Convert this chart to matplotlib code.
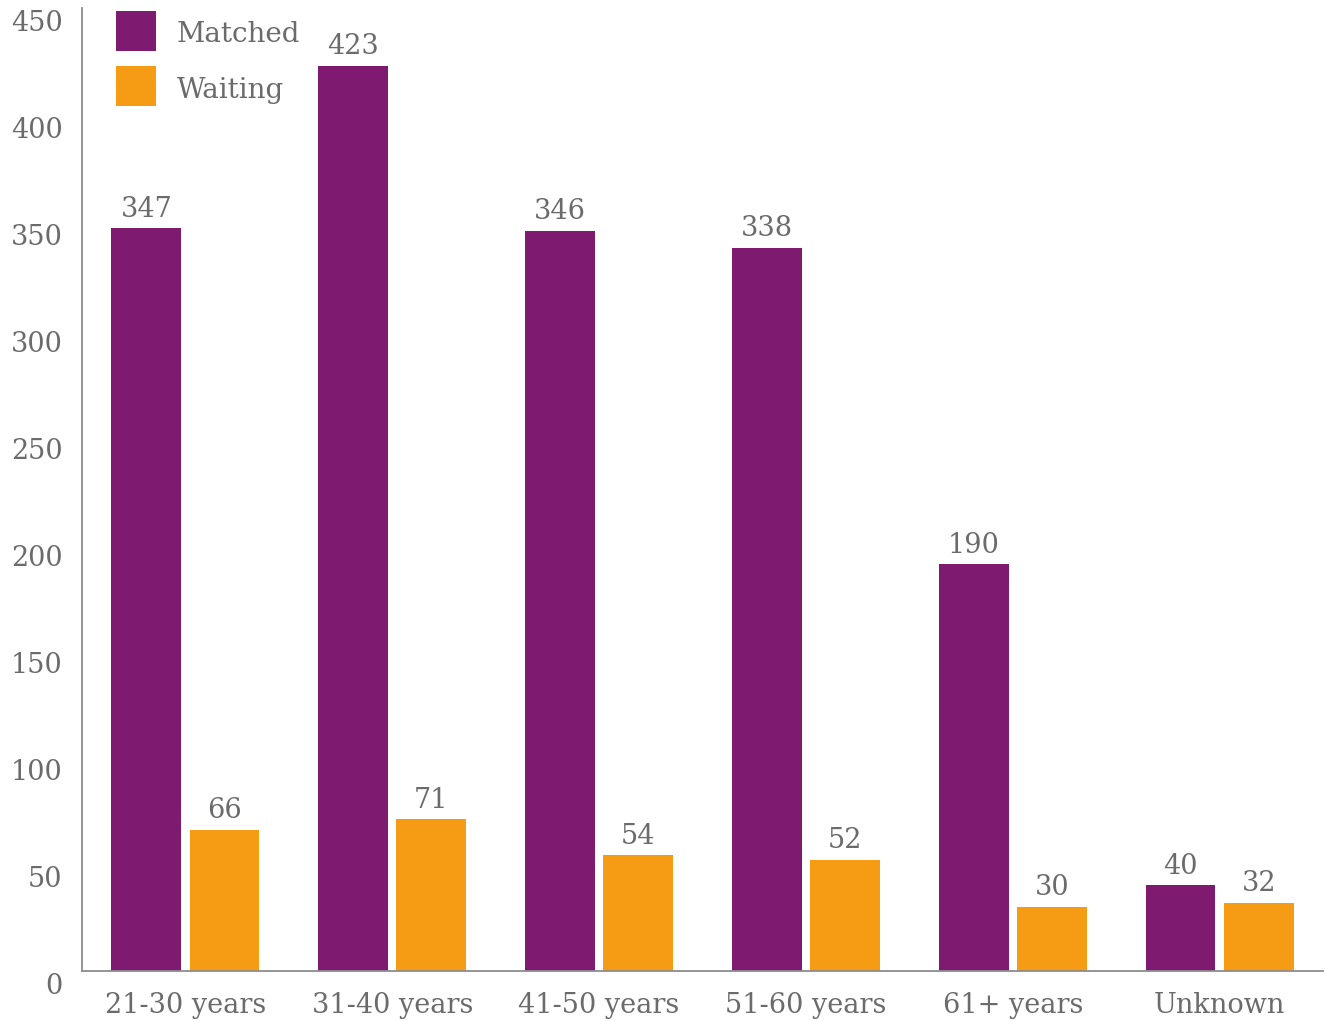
import matplotlib
matplotlib.use("Agg")
import matplotlib.pyplot as plt
from matplotlib.patches import Rectangle
from matplotlib.transforms import ScaledTranslation
import numpy as np

# age bands and counts
groups = ["21-30 years", "31-40 years", "41-50 years", "51-60 years", "61+ years", "Unknown"]
matched = [347, 423, 346, 338, 190, 40]
waiting = [66, 71, 54, 52, 30, 32]
series = ["Matched", "Waiting"]

purple = "#7e1a70"
orange = "#f59c14"
grey = "#6b6b6b"

plt.rcParams["font.family"] = ["DejaVu Serif"]

W, H = 1325, 1021
fig = plt.figure(figsize=(W / 100, H / 100), dpi=100)
ax = fig.add_axes([82 / W, 50 / H, 1241 / W, 963 / H])

x = np.arange(len(groups))
w = 0.338
off = 0.189
b1 = ax.bar(x - off, matched, w, color=purple)
b2 = ax.bar(x + off, waiting, w, color=orange)

for bars in (b1, b2):
    ax.bar_label(bars, padding=4, fontsize=19.5, color=grey)

ax.set_xlim(-0.5, 5.5)
ax.set_ylim(0, 450)
ax.set_yticks(range(0, 451, 50))
ax.set_xticks(x)
ax.set_xticklabels(groups)
ax.tick_params(axis="both", length=0, labelsize=19.5, labelcolor=grey)
ax.tick_params(axis="x", pad=15)
ax.tick_params(axis="y", pad=14)
# y labels sit a little under their gridline position
shift = ScaledTranslation(0, -12 / 100, fig.dpi_scale_trans)
for lab in ax.get_yticklabels():
    lab.set_transform(lab.get_transform() + shift)

for s in ("top", "right"):
    ax.spines[s].set_visible(False)
for s in ("left", "bottom"):
    ax.spines[s].set_color("#8c8c8c")
    ax.spines[s].set_linewidth(1.3)

# legend: square swatches with labels, placed in pixel terms
for i, (name, col) in enumerate(zip(series, [purple, orange])):
    top = 11 + i * 55
    fig.add_artist(Rectangle((116 / W, 1 - (top + 40) / H), 40 / W, 40 / H,
                             transform=fig.transFigure, color=col, lw=0))
    fig.text(177 / W, 1 - (top + 24) / H, name, fontsize=20, color=grey,
             ha="left", va="center")

fig.savefig("out.png", dpi=100)
